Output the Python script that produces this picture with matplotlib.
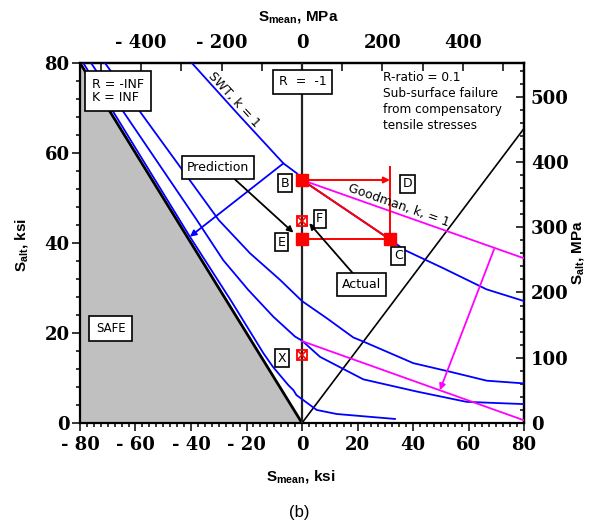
import matplotlib
matplotlib.use('Agg')
import matplotlib.pyplot as plt
from matplotlib.ticker import MultipleLocator, FixedLocator

plt.rcParams['mathtext.fontset'] = 'custom'
plt.rcParams['mathtext.bf'] = 'Liberation Sans:bold'
plt.rcParams['mathtext.rm'] = 'Liberation Sans'
plt.rcParams['font.family'] = ['DejaVu Sans']

KSI_TO_MPA = 6.895

# ---------------- data (ksi) ----------------
safe_x = [-80, 0, -80]
safe_y = [0, 0, 80]
boundary_x = [-80, 0]
boundary_y = [80, 0]
r01_x = [0, 80]
r01_y = [0, 65.45]
rm1_x = [0, 0]
rm1_y = [0, 80]

swt_x = [-39.7, -23.3, -6.7, -1.9, 0, 31.7, 37.1, 50.9, 66.5, 80]
swt_y = [80, 68.8, 57.7, 55.5, 54, 40.8, 38.4, 34.4, 29.7, 27.1]

curve0_x = [-78.8, -40.4, -25.7, -13.9, -10.5, -4.9, -3.1, -2.0, 0, 5.3, 12.5, 33.5]
curve0_y = [80, 41.4, 27.3, 15.5, 12.5, 8.4, 7.3, 6.2, 5.3, 2.9, 2.0, 0.9]

curve1_x = [-76, -64.4, -37.9, -28.4, -19.4, -10.3, -2.5, 0, 6.5, 22.1, 41.3, 59.3, 80]
curve1_y = [80, 69.2, 45.1, 36.2, 29.6, 23.6, 19.2, 18.3, 14.7, 9.7, 7.0, 4.7, 4.2]

curve2_x = [-71, -58.4, -30.0, -18.7, -7.9, 0, 8.9, 18.5, 22.1, 40.1, 53.3, 66.6, 80]
curve2_y = [80, 69.2, 45.1, 37.7, 31.8, 27.1, 23.3, 19.0, 18.1, 13.3, 11.4, 9.4, 8.8]

goodman_hi_x = [0, 80]
goodman_hi_y = [54, 36.6]
goodman_lo_x = [0, 80]
goodman_lo_y = [18.2, 0.6]

filled_x = [0, 0, 31.7]        # B, E, C
filled_y = [54, 40.8, 40.8]
crossed_x = [0, 0]             # F, X
crossed_y = [44.9, 15.1]

red_vert_x = [31.7, 31.7]
red_vert_y = [57, 40.8]
red_horiz_x = [2, 31.7]
red_horiz_y = [40.8, 40.8]
red_diag_x = [0, 31.7]
red_diag_y = [54, 40.8]
red_arrow = [(0, 54), (31.7, 54)]
blue_arrow = [(-6.7, 57.7), (-40.4, 41.4)]
magenta_arrow = [(69.2, 38.6), (49.7, 7.3)]
pred_arrow = [(-24.1, 54.1), (-3.1, 42.3)]
actual_arrow = [(18.3, 33.3), (2.6, 44.4)]

x_ticks = [-80, -60, -40, -20, 0, 20, 40, 60, 80]
x_tick_labels = ['- 80', '- 60', '- 40', '- 20', '0', '20', '40', '60', '80']
y_ticks = [0, 20, 40, 60, 80]
y_tick_labels = ['0', '20', '40', '60', '80']
top_ticks = [-400, -200, 0, 200, 400]
top_tick_labels = ['- 400', '- 200', '0', '200', '400']
right_ticks = [0, 100, 200, 300, 400, 500]
right_tick_labels = ['0', '100', '200', '300', '400', '500']

# ---------------- figure ----------------
W, H = 592, 529
fig = plt.figure(figsize=(W / 100, H / 100), dpi=100)
ax = fig.add_axes([80 / W, 1 - 423 / H, 444 / W, 360 / H])
ax.set_xlim(-80, 80)
ax.set_ylim(0, 80)

BLUE = '#0000ff'
MAG = '#ff00ff'
RED = '#ff0000'

ax.fill(safe_x, safe_y, color='#c0c0c0', lw=0, zorder=1)
ax.plot(boundary_x, boundary_y, color='black', lw=2.0, zorder=3)
ax.plot(r01_x, r01_y, color='black', lw=1.2, zorder=3)
ax.plot(rm1_x, rm1_y, color='#222222', lw=1.6, zorder=3)

for cx, cy in [(swt_x, swt_y), (curve0_x, curve0_y), (curve1_x, curve1_y), (curve2_x, curve2_y)]:
    ax.plot(cx, cy, color=BLUE, lw=1.3, zorder=4)

ax.plot(goodman_hi_x, goodman_hi_y, color=MAG, lw=1.3, zorder=4)
ax.plot(goodman_lo_x, goodman_lo_y, color=MAG, lw=1.3, zorder=4)

ax.plot(red_vert_x, red_vert_y, color=RED, lw=1.4, zorder=5)
ax.plot(red_horiz_x, red_horiz_y, color=RED, lw=1.4, zorder=5)
ax.plot(red_diag_x, red_diag_y, color=RED, lw=1.4, zorder=5)


def arrow(pts, color, lw=1.3, ms=9):
    ax.annotate('', xy=pts[1], xytext=pts[0],
                arrowprops=dict(arrowstyle='-|>', color=color, lw=lw,
                                mutation_scale=ms, shrinkA=0, shrinkB=0),
                zorder=6)


arrow(red_arrow, RED, 1.4)
arrow(blue_arrow, BLUE, 1.3)
arrow(magenta_arrow, MAG, 1.3)
arrow(pred_arrow, 'black', 1.3)
arrow(actual_arrow, 'black', 1.3)

ax.plot(filled_x, filled_y, 's', color=RED, ms=8, zorder=7)
ax.plot(crossed_x, crossed_y, 's', mfc='none', mec=RED, mew=1.3, ms=7.5, zorder=7)
ax.plot(crossed_x, crossed_y, 'x', color=RED, mew=1.2, ms=6.5, zorder=7)

# ---------------- labels / boxes ----------------
box = dict(boxstyle='square,pad=0.4', fc='white', ec='black', lw=1.2)
sbox = dict(boxstyle='square,pad=0.2', fc='white', ec='black', lw=1.2)
fs = 9

ax.text(-66.4, 73.7, 'R = -INF\nK = INF', fontsize=fs, ha='center', va='center',
        multialignment='left', linespacing=1.0,
        bbox=dict(boxstyle='square,pad=0.55', fc='white', ec='black', lw=1.2), zorder=10)
ax.text(0.2, 75.8, 'R  =  -1', fontsize=fs, ha='center', va='center',
        bbox=dict(boxstyle='square,pad=0.45', fc='white', ec='black', lw=1.2), zorder=10)
ax.text(-30.2, 56.8, 'Prediction', fontsize=fs, ha='center', va='center', bbox=box, zorder=10)
ax.text(21.5, 30.7, 'Actual', fontsize=fs, ha='center', va='center', bbox=box, zorder=10)
ax.text(-68.9, 21.0, 'SAFE', fontsize=fs - 0.5, ha='center', va='center',
        bbox=dict(boxstyle='square,pad=0.55', fc='white', ec='black', lw=1.2), zorder=10)
for s, (tx, ty) in {'B': (-6.1, 53.3), 'D': (38.0, 53.2), 'E': (-7.3, 40.2),
                    'F': (6.4, 45.4), 'C': (34.7, 37.2), 'X': (-7.3, 14.4)}.items():
    ax.text(tx, ty, s, fontsize=fs, ha='center', va='center', bbox=sbox, zorder=10)

ax.text(29.3, 78.3, 'R-ratio = 0.1\nSub-surface failure\nfrom compensatory\ntensile stresses',
        fontsize=8.7, ha='left', va='top', linespacing=1.3, zorder=10)
ax.text(-24.7, 71.8, 'SWT, k = 1', fontsize=fs, rotation=-47.5, ha='center', va='center',
        rotation_mode='anchor', zorder=10)
ax.text(35.0, 48.4, 'Goodman, k, = 1', fontsize=fs, rotation=-19.4, ha='center', va='center',
        rotation_mode='anchor', zorder=10)

# ---------------- axes styling ----------------
tickfont = dict(family='DejaVu Serif', weight='bold', size=13)
ax.xaxis.set_major_locator(FixedLocator(x_ticks))
ax.set_xticklabels(x_tick_labels, **tickfont)
ax.yaxis.set_major_locator(FixedLocator(y_ticks))
ax.set_yticklabels(y_tick_labels, **tickfont)
ax.xaxis.set_minor_locator(MultipleLocator(2.5))
ax.yaxis.set_minor_locator(MultipleLocator(4))
ax.tick_params(which='both', direction='out', top=False, right=False, width=1.1)
ax.tick_params(which='major', length=5.5)
ax.tick_params(which='minor', length=2.8)
ax.tick_params(axis='x', pad=4)
ax.tick_params(axis='y', pad=2)
for sp in ax.spines.values():
    sp.set_linewidth(1.6)

secx = ax.secondary_xaxis('top', functions=(lambda v: v * KSI_TO_MPA, lambda v: v / KSI_TO_MPA))
secx.xaxis.set_major_locator(FixedLocator(top_ticks))
secx.set_xticklabels(top_tick_labels, **tickfont)
secx.xaxis.set_minor_locator(MultipleLocator(100))
secx.tick_params(which='both', direction='in', width=1.1)
secx.tick_params(which='major', length=5.5, pad=8)
secx.tick_params(which='minor', length=5.5)
secx.spines['top'].set_linewidth(1.6)

secy = ax.secondary_yaxis('right', functions=(lambda v: v * KSI_TO_MPA, lambda v: v / KSI_TO_MPA))
secy.yaxis.set_major_locator(FixedLocator(right_ticks))
secy.set_yticklabels(right_tick_labels, **tickfont)
secy.yaxis.set_minor_locator(MultipleLocator(20))
secy.tick_params(which='both', direction='in', width=1.1)
secy.tick_params(which='major', length=5.5, pad=5)
secy.tick_params(which='minor', length=2.8)
secy.spines['right'].set_linewidth(1.6)

lab = dict(family='Liberation Sans', weight='bold', size=11, ha='center', va='center')
fig.text(301 / W, 1 - 477 / H, r'$\mathbf{S}_{\mathbf{mean}}$, ksi', **lab)
fig.text(298 / W, 1 - 18 / H, r'$\mathbf{S}_{\mathbf{mean}}$, MPa', **lab)
fig.text(22 / W, 1 - 245 / H, r'$\mathbf{S}_{\mathbf{alt}}$, ksi', rotation=90, **lab)
fig.text(579 / W, 1 - 252 / H, r'$\mathbf{S}_{\mathbf{alt}}$, MPa', rotation=90, **lab)
fig.text(299 / W, 1 - 513 / H, '(b)', family='Liberation Sans', size=12, ha='center', va='center')

fig.savefig('out.png', dpi=100)
